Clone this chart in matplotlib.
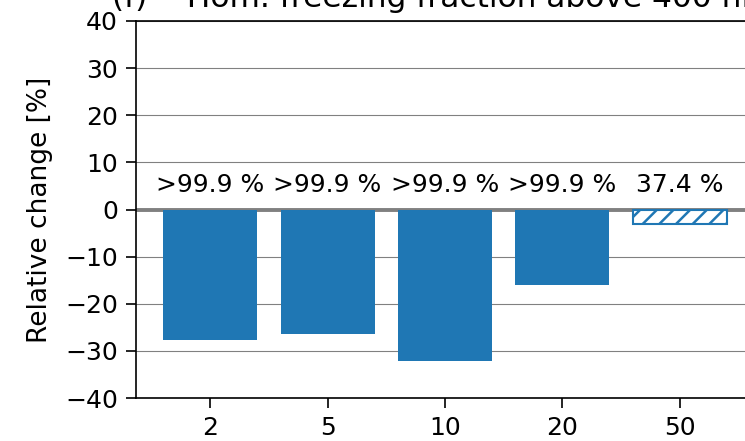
import numpy as np
import matplotlib
matplotlib.use("Agg")
import matplotlib.pyplot as plt

# Data
categories = ["2", "5", "10", "20", "50"]
changes = [-27.7, -26.4, -32.2, -16.0, -3.0]
significance = [">99.9 %", ">99.9 %", ">99.9 %", ">99.9 %", "37.4 %"]
significant = [True, True, True, True, False]

plt.rcParams["hatch.linewidth"] = 1.8

fig = plt.figure(figsize=(7.45, 4.41), dpi=100)
ax = fig.add_axes([136 / 745, 43 / 441, 618 / 745, 377 / 441])

x = np.arange(len(categories))
for xi, val, sig in zip(x, changes, significant):
    if sig:
        ax.bar(xi, val, width=0.8, color="#1f77b4", zorder=3)
    else:
        ax.bar(xi, val, width=0.8, facecolor="white", edgecolor="#1f77b4",
               hatch="//", linewidth=1.5, zorder=3)

for xi, txt in zip(x, significance):
    ax.text(xi, 5.2, txt, ha="center", va="center", fontsize=18, zorder=4)

ax.axhline(0, color="gray", linewidth=2.8, zorder=2)
ax.set_ylim(-40, 40)
ax.set_xlim(-0.63, 4.63)
ax.set_yticks(np.arange(-40, 41, 10))
ax.set_xticks(x)
ax.set_xticklabels(categories)
ax.yaxis.grid(True, color="gray", linewidth=0.8, zorder=0)
ax.tick_params(labelsize=18, length=7, width=1.2, pad=6)
for s in ax.spines.values():
    s.set_linewidth(1.2)
ax.set_ylabel("Relative change [%]", fontsize=19, labelpad=9)
ax.set_title("(f)    Hom. freezing fraction above 400 hPa", fontsize=22.5, pad=10)

fig.savefig("out.png", dpi=100)
